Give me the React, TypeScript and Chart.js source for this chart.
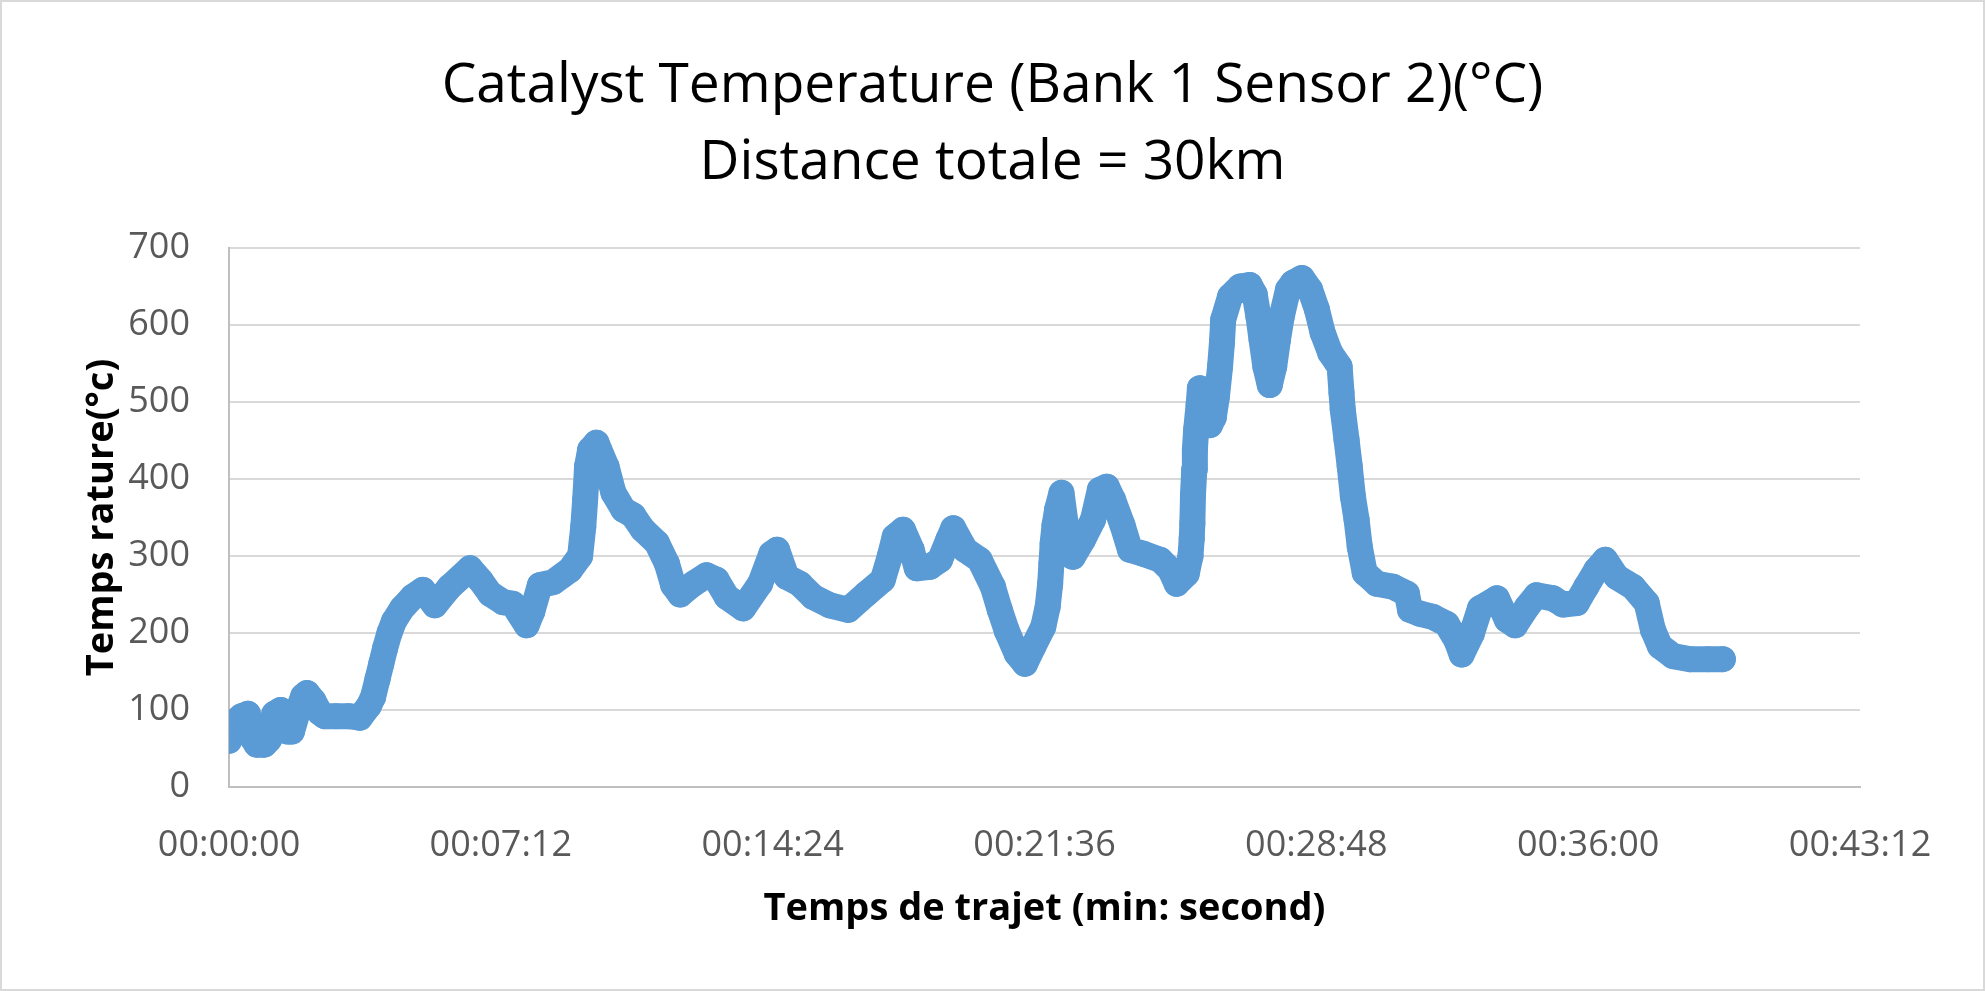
import { useEffect, useRef } from "react"
import { Chart, registerables } from "chart.js"

Chart.register(...registerables)

// Trip time in seconds since start
const tripSeconds = [
  0, 4, 10, 20, 30, 36, 44, 56, 64, 72, 82, 88, 94, 100, 110, 118, 124, 134, 144, 152,
  170, 190, 208, 222, 229, 236, 242, 248, 255, 262, 275, 292, 308, 327, 351, 383, 400, 415, 436, 451,
  473, 482, 494, 515, 542, 558, 563, 566, 569, 574, 584, 600, 611, 627, 642, 657, 680, 696, 706, 717,
  738, 759, 775, 791, 817, 844, 862, 871, 886, 907, 928, 955, 984, 1013, 1039, 1050, 1058, 1071, 1085, 1093,
  1114, 1130, 1143, 1151, 1170, 1193, 1214, 1225, 1236, 1252, 1265, 1278, 1294, 1301, 1305, 1307, 1309, 1312, 1316, 1323,
  1330, 1341, 1357, 1373, 1384, 1395, 1405, 1420, 1432, 1453, 1480, 1496, 1506, 1522, 1528, 1530, 1531, 1532, 1534, 1535,
  1537, 1541, 1543, 1550, 1559, 1565, 1570, 1575, 1578, 1580, 1591, 1607, 1622, 1630, 1636, 1641, 1647, 1654, 1661, 1667,
  1673, 1683, 1691, 1705, 1718, 1729, 1738, 1750, 1765, 1768, 1770, 1776, 1781, 1786, 1792, 1797, 1805, 1824, 1850, 1872,
  1877, 1893, 1913, 1935, 1951, 1959, 1975, 1988, 2015, 2031, 2044, 2063, 2078, 2104, 2120, 2142, 2157, 2173, 2187, 2205,
  2231, 2253, 2263, 2274, 2295, 2322, 2350, 2374,
]

// Catalyst temperature (°C), one per time above
const catalystTemp = [
  60, 75, 85, 92, 95, 65, 55, 55, 62, 95, 100, 85, 72, 72, 100, 118, 122, 112, 97, 92,
  92, 92, 90, 105, 117, 140, 160, 180, 200, 215, 232, 247, 256, 236, 260, 284, 268, 251, 240, 238,
  210, 228, 262, 266, 282, 300, 338, 373, 416, 438, 447, 416, 382, 360, 353, 335, 317, 290, 262, 250,
  264, 275, 269, 247, 232, 264, 303, 308, 273, 264, 247, 236, 230, 251, 269, 299, 325, 334, 308, 284,
  286, 295, 321, 336, 308, 295, 260, 230, 203, 173, 160, 182, 208, 234, 264, 290, 317, 340, 360, 382,
  340, 299, 321, 347, 386, 390, 373, 340, 308, 303, 295, 282, 264, 277, 300, 323, 343, 380, 412, 438,
  464, 497, 518, 490, 470, 480, 507, 546, 577, 607, 637, 650, 652, 640, 611, 581, 546, 522, 546, 581,
  611, 646, 655, 661, 646, 620, 590, 564, 546, 512, 490, 451, 417, 378, 347, 312, 278, 264, 260, 251,
  230, 225, 221, 212, 190, 172, 199, 232, 245, 217, 210, 234, 249, 245, 237, 239, 260, 282, 295, 273,
  260, 239, 204, 183, 170, 166, 166, 166,
]

// Axis ticks
const xTickSeconds = [0, 432, 864, 1296, 1728, 2160, 2592]
const yTicks = [0, 100, 200, 300, 400, 500, 600, 700]

const titleLines = ["Catalyst Temperature (Bank 1 Sensor 2)(°C)", "Distance totale = 30km"]

const fmtTime = (s: number) => {
  const h = Math.floor(s / 3600)
  const m = Math.floor((s % 3600) / 60)
  const sec = Math.round(s % 60)
  const p = (n: number) => String(n).padStart(2, "0")
  return `${p(h)}:${p(m)}:${p(sec)}`
}

const FONT = "'Open Sans', 'Noto Sans', sans-serif"
const BLUE = "#5B9BD5"

// white page + thin grey frame round the whole chart
const framePlugin = {
  id: "frame",
  beforeDraw(chart: Chart) {
    const { ctx, width, height } = chart
    ctx.save()
    ctx.fillStyle = "#ffffff"
    ctx.fillRect(0, 0, width, height)
    ctx.strokeStyle = "#d9d9d9"
    ctx.lineWidth = 2
    ctx.strokeRect(1, 1, width - 2, height - 2)
    ctx.restore()
  },
}

export default function App() {
  const canvasRef = useRef<HTMLCanvasElement>(null)
  const chartRef = useRef<Chart | null>(null)

  useEffect(() => {
    if (!canvasRef.current) return
    if (chartRef.current) chartRef.current.destroy()

    const points = tripSeconds.map((t, i) => ({ x: t, y: catalystTemp[i] }))

    chartRef.current = new Chart(canvasRef.current, {
      type: "line",
      data: {
        datasets: [
          {
            data: points,
            borderColor: BLUE,
            backgroundColor: BLUE,
            borderWidth: 26,
            borderJoinStyle: "round",
            borderCapStyle: "round",
            pointRadius: 13,
            pointBorderWidth: 0,
            pointBackgroundColor: BLUE,
            tension: 0,
          },
        ],
      },
      options: {
        responsive: true,
        maintainAspectRatio: false,
        animation: false,
        devicePixelRatio: 1,
        // symmetric side padding keeps the title centred on the canvas
        layout: { padding: { left: 125, right: 125, top: 0, bottom: 0 } },
        plugins: {
          legend: { display: false },
          tooltip: { enabled: false },
          title: {
            display: true,
            text: titleLines,
            color: "#000000",
            font: { family: FONT, size: 55, weight: "normal", lineHeight: 1.4 },
            padding: { top: 48, bottom: 46 },
          },
        },
        scales: {
          x: {
            type: "linear",
            min: 0,
            max: 2592,
            afterBuildTicks: (scale: any) => {
              scale.ticks = xTickSeconds.map((v) => ({ value: v }))
            },
            afterFit: (scale: any) => {
              scale.height = 204
            },
            ticks: {
              color: "#595959",
              font: { family: FONT, size: 36 },
              padding: 29,
              maxRotation: 0,
              callback: (v: any) => fmtTime(Number(v)),
            },
            grid: { display: false },
            border: { display: true, color: "#bfbfbf", width: 2 },
            title: {
              display: true,
              text: "Temps de trajet (min: second)",
              color: "#000000",
              font: { family: FONT, size: 38, weight: "bold" },
              padding: { top: 0, bottom: 59 },
            },
          },
          y: {
            min: 0,
            max: 700,
            afterBuildTicks: (scale: any) => {
              scale.ticks = yTicks.map((v) => ({ value: v }))
            },
            afterFit: (scale: any) => {
              scale.width = 104
            },
            ticks: {
              color: "#595959",
              font: { family: FONT, size: 36 },
              padding: 39,
            },
            grid: { color: "#d9d9d9", lineWidth: 2, drawTicks: false },
            border: { display: true, color: "#bfbfbf", width: 2 },
            title: {
              display: true,
              text: "Temps rature(°c)",
              color: "#000000",
              font: { family: FONT, size: 38, weight: "bold" },
              // pulls the rotated title back out into the left margin
              padding: { top: -46, bottom: 0 },
            },
          },
        },
      },
      plugins: [framePlugin],
    })

    return () => {
      if (chartRef.current) {
        chartRef.current.destroy()
        chartRef.current = null
      }
    }
  }, [])

  return (
    <div style={{ position: "absolute", left: 0, top: 0, width: 1985, height: 991 }}>
      <canvas ref={canvasRef}></canvas>
    </div>
  )
}
